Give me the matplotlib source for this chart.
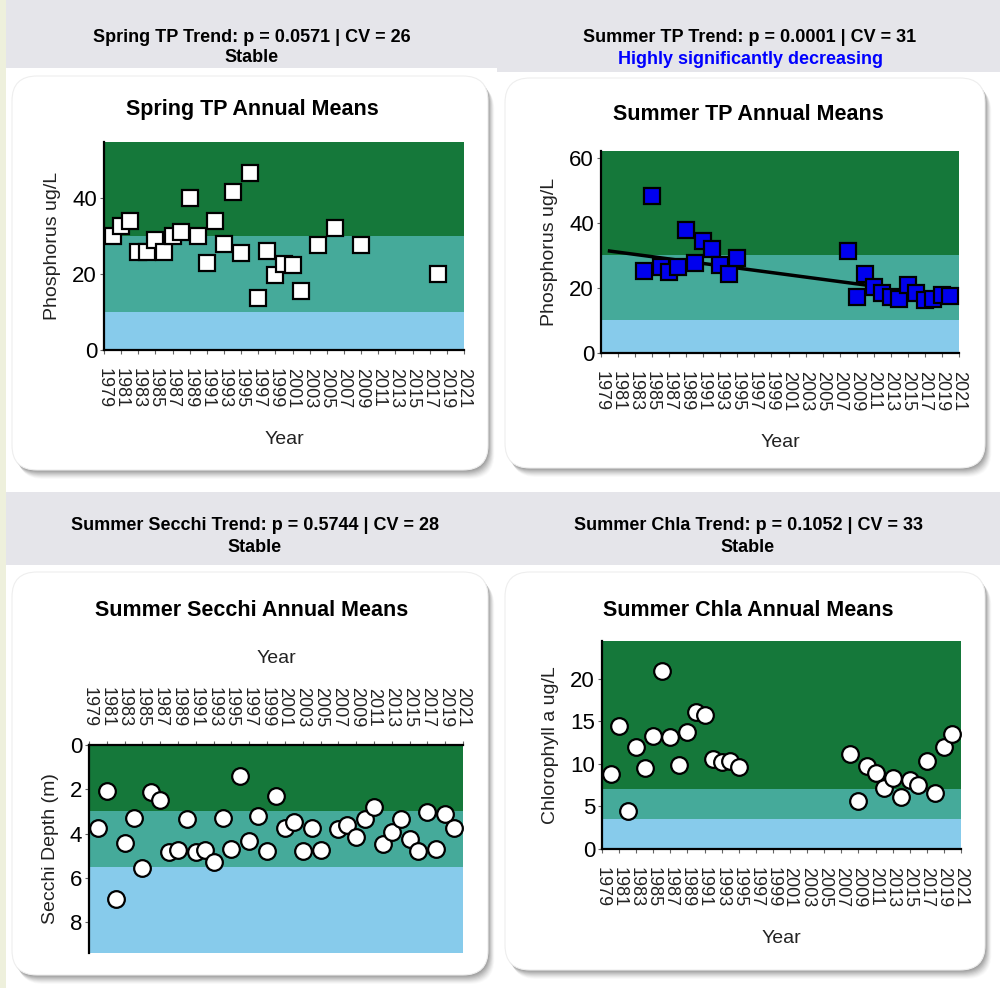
import numpy as np
import matplotlib
matplotlib.use("Agg")
import matplotlib.pyplot as plt
from matplotlib.patches import FancyBboxPatch, Rectangle

plt.rcParams['font.family'] = ['Liberation Sans', 'DejaVu Sans']
NARROW = ['Liberation Sans Narrow', 'Liberation Sans', 'DejaVu Sans']

# ---- data ----
spring_tp_years = [1980, 1981, 1982, 1983, 1984, 1985, 1986, 1987, 1988, 1989,
                   1990, 1991, 1992, 1993, 1994, 1995, 1996, 1997, 1998, 1999,
                   2000, 2001, 2002, 2004, 2006, 2009, 2018]
spring_tp_vals = [30, 32.6, 34, 25.8, 25.8, 29, 25.8, 30, 31, 40,
                  30, 23, 34, 28, 41.6, 25.6, 46.5, 13.6, 26, 19.8,
                  22.7, 22.3, 15.5, 27.6, 32.2, 27.6, 20]

summer_tp_years = [1984, 1985, 1986, 1987, 1988, 1989, 1990, 1991, 1992, 1993,
                   1994, 1995, 2008, 2009, 2010, 2011, 2012, 2013, 2014, 2015,
                   2016, 2017, 2018, 2019, 2020]
summer_tp_vals = [25.2, 48.2, 26.3, 24.9, 26.3, 37.7, 27.5, 34.5, 31.8, 27,
                  24.2, 29.3, 31.4, 17.2, 24.1, 20.3, 18.5, 17.2, 16.7, 20.8,
                  18.3, 16.2, 16.7, 17.7, 17.5]
summer_tp_trend_years = [1980, 2010.5]
summer_tp_trend_vals = [31.3, 20.7]

secchi_years = [1980, 1981, 1982, 1983, 1984, 1985, 1986, 1987, 1988, 1989,
                1990, 1991, 1992, 1993, 1994, 1995, 1996, 1997, 1998, 1999,
                2000, 2001, 2002, 2003, 2004, 2005, 2007, 2008, 2009, 2010,
                2011, 2012, 2013, 2014, 2015, 2016, 2017, 2018, 2019, 2020]
secchi_vals = [3.76, 2.06, 6.96, 4.44, 3.28, 5.58, 2.14, 2.48, 4.84, 4.74,
               3.34, 4.84, 4.74, 5.31, 3.31, 4.69, 1.38, 4.32, 3.2, 4.77,
               2.3, 3.76, 3.46, 4.77, 3.73, 4.74, 3.79, 3.61, 4.14, 3.34,
               2.81, 4.47, 3.91, 3.34, 4.26, 4.8, 3.04, 4.71, 3.13, 3.76]

chla_years = [1980, 1981, 1982, 1983, 1984, 1985, 1986, 1987, 1988, 1989,
              1990, 1991, 1992, 1993, 1994, 1995, 2008, 2009, 2010, 2011,
              2012, 2013, 2014, 2015, 2016, 2017, 2018, 2019, 2020]
chla_vals = [8.8, 14.4, 4.5, 11.95, 9.5, 13.3, 20.9, 13.1, 9.9, 13.7,
             16.1, 15.7, 10.6, 10.2, 10.3, 9.6, 11.2, 5.66, 9.7, 8.9,
             7.15, 8.3, 6.1, 8.05, 7.46, 10.3, 6.56, 11.95, 13.5]

year_ticks = list(range(1979, 2022, 2))

DARK = '#15783a'
TEAL = '#45aa9a'
LIGHT = '#87cbeb'

W, H = 1000, 988
fig = plt.figure(figsize=(10, 9.88), dpi=100)
fig.patch.set_facecolor('white')


def rect(l, t, r, b):
    return [l / W, 1 - b / H, (r - l) / W, (b - t) / H]


def fig_rect(l, t, r, b, color, z=0):
    fig.patches.append(Rectangle((l / W, 1 - b / H), (r - l) / W, (b - t) / H,
                                 transform=fig.transFigure, facecolor=color,
                                 edgecolor='none', zorder=z))


def card(l, t, r, b):
    # soft shadow
    for k, a in zip(range(9, 0, -1), np.linspace(0.03, 0.14, 9)):
        fig.patches.append(FancyBboxPatch(
            ((l + k * 0.7) / W, 1 - (b + k * 1.0) / H), (r - l) / W, (b - t) / H,
            boxstyle='round,pad=0,rounding_size=0.025', transform=fig.transFigure,
            facecolor='#555555', edgecolor='none', alpha=a, zorder=1))
    fig.patches.append(FancyBboxPatch(
        (l / W, 1 - b / H), (r - l) / W, (b - t) / H,
        boxstyle='round,pad=0,rounding_size=0.025', transform=fig.transFigure,
        facecolor='white', edgecolor='#eeeeee', linewidth=0.8, zorder=2))


# page background and header bands
fig_rect(0, 0, 6, H, '#eef0dc')
fig_rect(6, 0, 497, 68, '#e5e5ea')
fig_rect(497, 0, W, 72, '#e5e5ea')
fig_rect(6, 492, W, 565, '#e5e5ea')

card(12, 76, 488, 470)
card(505, 78, 985, 468)
card(12, 572, 488, 975)
card(505, 572, 985, 970)


def header(x, y1, y2, line1, line2, color2='black'):
    fig.text(x / W, 1 - y1 / H, line1, ha='center', va='center', fontsize=13,
             fontweight='bold', family=NARROW)
    fig.text(x / W, 1 - y2 / H, line2, ha='center', va='center', fontsize=13,
             fontweight='bold', family=NARROW, color=color2)


header(252, 38, 58, 'Spring TP Trend: p = 0.0571 | CV = 26', 'Stable')
header(750, 38, 59, 'Summer TP Trend: p = 0.0001 | CV = 31',
       'Highly significantly decreasing', color2='#0000ff')
header(255, 526, 548, 'Summer Secchi Trend: p = 0.5744 | CV = 28', 'Stable')
header(748, 526, 548, 'Summer Chla Trend: p = 0.1052 | CV = 33', 'Stable')


def title(x, y, s):
    fig.text(x / W, 1 - y / H, s, ha='center', va='center', fontsize=15.5,
             fontweight='bold', family=NARROW)


title(252, 110, 'Spring TP Annual Means')
title(748, 115, 'Summer TP Annual Means')
title(252, 610, 'Summer Secchi Annual Means')
title(748, 610, 'Summer Chla Annual Means')


def make_axes(box, ymax, bands, yticks, ylabel, invert=False):
    ax = fig.add_axes(rect(*box), zorder=5)
    ax.set_xlim(1979, 2021)
    lo, mid, hi = bands
    if invert:
        ax.axhspan(0, lo, color=DARK, lw=0, zorder=0)
        ax.axhspan(lo, mid, color=TEAL, lw=0, zorder=0)
        ax.axhspan(mid, ymax, color=LIGHT, lw=0, zorder=0)
        ax.set_ylim(ymax, 0)
    else:
        ax.axhspan(0, lo, color=LIGHT, lw=0, zorder=0)
        ax.axhspan(lo, mid, color=TEAL, lw=0, zorder=0)
        ax.axhspan(mid, ymax, color=DARK, lw=0, zorder=0)
        ax.set_ylim(0, ymax)
    ax.set_yticks(yticks)
    ax.set_xticks(year_ticks)
    ax.set_xticklabels([str(y) for y in year_ticks], rotation=270, fontsize=13,
                       color='#222222')
    ax.set_yticklabels([str(v) for v in yticks], fontsize=16, family=NARROW)
    ax.tick_params(length=3, width=0.8, color='#666666', pad=2)
    ax.tick_params(axis='x', pad=10)
    for s in ax.spines.values():
        s.set_visible(False)
    ax.spines['left'].set_visible(True)
    ax.spines['left'].set_linewidth(1.6)
    if invert:
        ax.spines['top'].set_visible(True)
        ax.spines['top'].set_linewidth(1.6)
        ax.xaxis.tick_top()
        ax.xaxis.set_label_position('top')
        ax.set_xlabel('Year', fontsize=14, labelpad=17, color='#222222')
    else:
        ax.spines['bottom'].set_visible(True)
        ax.spines['bottom'].set_linewidth(1.6)
        ax.set_xlabel('Year', fontsize=14, labelpad=16, color='#222222')
    ax.set_ylabel(ylabel, fontsize=14, labelpad=8, color='#222222')
    return ax


sq = dict(ls='none', marker='s', markersize=12, markeredgecolor='black',
          markeredgewidth=1.6, zorder=5, clip_on=False)
circ = dict(ls='none', marker='o', markersize=12, markerfacecolor='white',
            markeredgecolor='black', markeredgewidth=1.6, zorder=5, clip_on=False)

ax = make_axes((104, 142, 464, 350), 54.7, (10, 30, 54.7), [0, 20, 40],
               'Phosphorus ug/L')
ax.plot(spring_tp_years, spring_tp_vals, markerfacecolor='white', **sq)

ax = make_axes((601, 151, 959, 353), 62, (10, 30, 62), [0, 20, 40, 60],
               'Phosphorus ug/L')
ax.plot(summer_tp_years, summer_tp_vals, markerfacecolor='#0000ee', **sq)
ax.plot(summer_tp_trend_years, summer_tp_trend_vals, color='black', lw=2.5,
        zorder=4)

ax = make_axes((89, 745, 463, 953), 9.4, (3, 5.5, 9.4), [0, 2, 4, 6, 8],
               'Secchi Depth (m)', invert=True)
ax.plot(secchi_years, secchi_vals, **circ)

ax = make_axes((602, 641, 961, 849), 24.4, (3.5, 7, 24.4), [0, 5, 10, 15, 20],
               'Chlorophyll a ug/L')
ax.plot(chla_years, chla_vals, **circ)

fig.savefig('out.png', dpi=100)
